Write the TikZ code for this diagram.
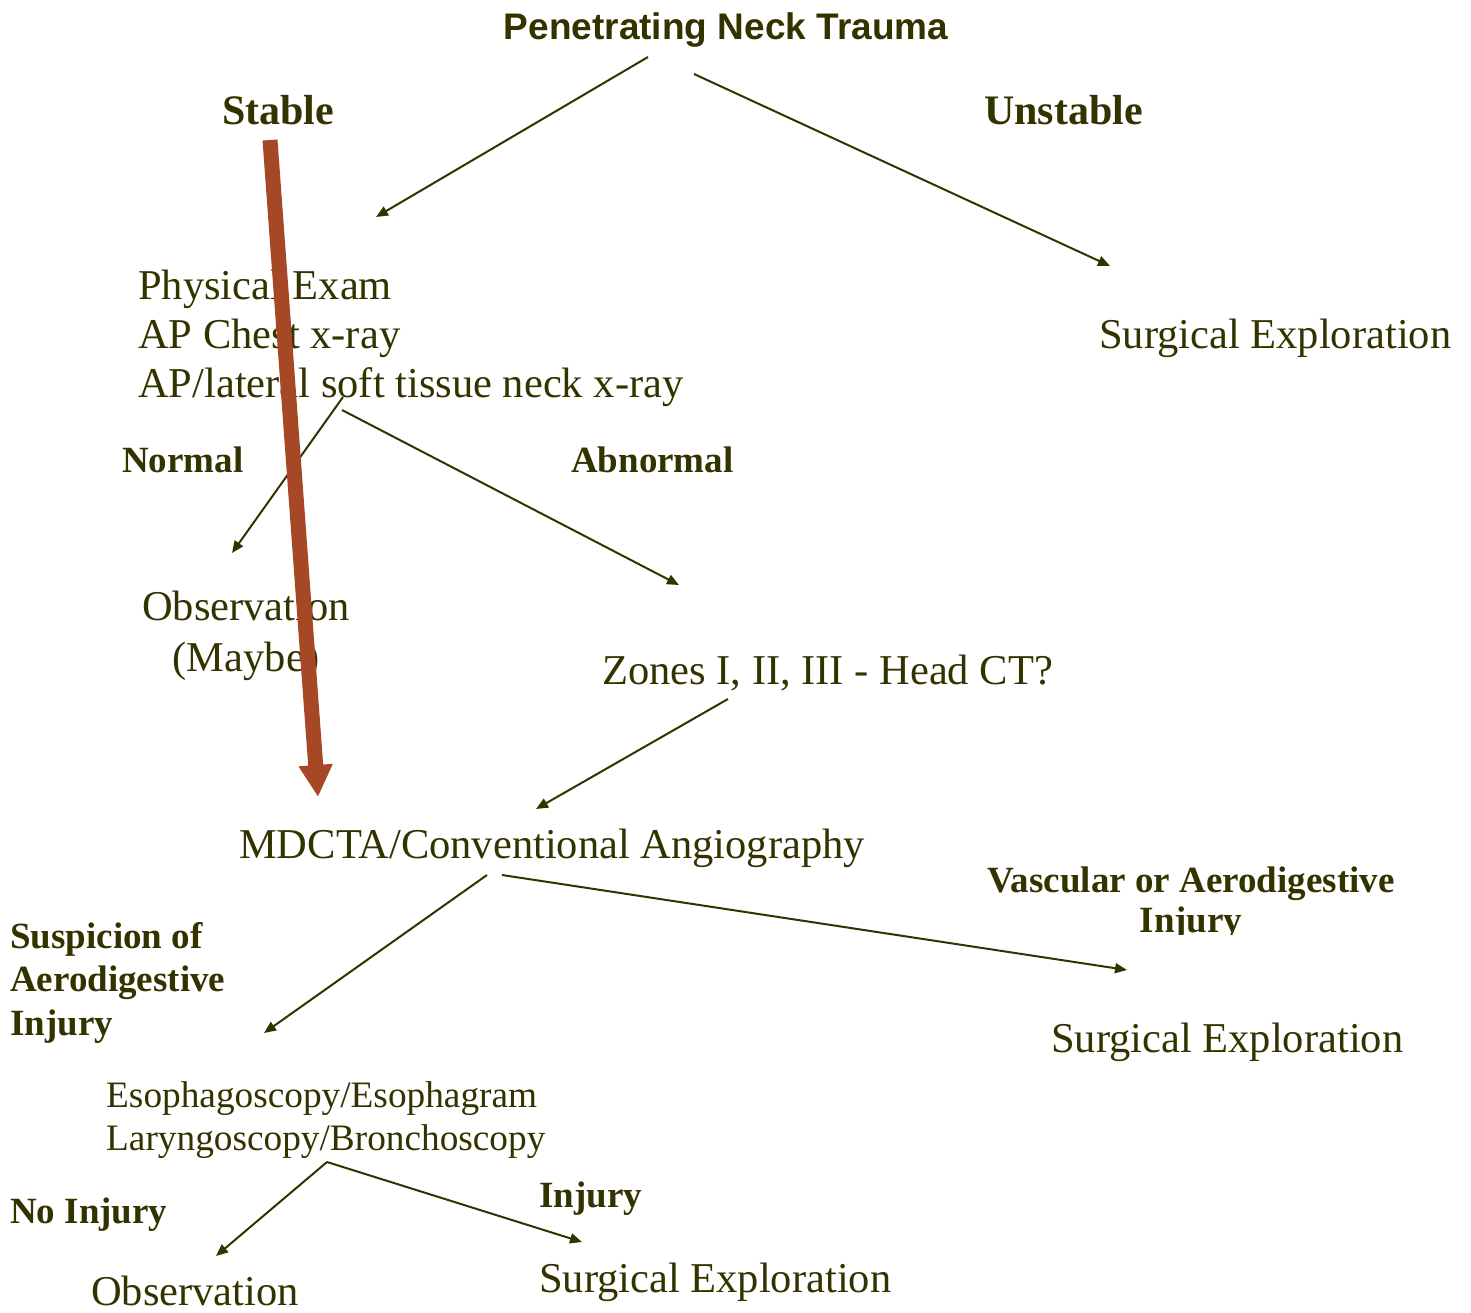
\documentclass[tikz,border=0pt]{standalone}
\usepackage{fontspec}
\setmainfont{Liberation Serif}
\newfontfamily\titlefont{Liberation Sans}
\usetikzlibrary{arrows.meta}
\definecolor{olive}{RGB}{51,51,0}
\definecolor{rust}{RGB}{166,72,38}
\tikzset{
  txt/.style={inner sep=0pt, text=olive, anchor=base west, font=\fontsize{42.5}{49}\selectfont},
  lbl/.style={inner sep=0pt, text=olive, anchor=base west, font=\bfseries\fontsize{37}{43.5}\selectfont},
  small/.style={inner sep=0pt, text=olive, anchor=base west, font=\fontsize{37.3}{43}\selectfont},
  conn/.style={draw=olive, line width=2pt, -{Triangle[length=12pt,width=10pt]}},
  bigarrow/.style={draw=rust, line width=15pt, -{Triangle[length=32pt,width=32pt]}}
}
\begin{document}
\begin{tikzpicture}[x=1pt,y=-1pt]
\useasboundingbox (0,0) rectangle (1471,1313);
% texts (multi-line nodes are placed by the baseline of their last line)
\node[inner sep=0pt, text=olive, anchor=base, font=\titlefont\bfseries\fontsize{37}{44}\selectfont] (title) at (726,40) {Penetrating Neck Trauma};
\node[lbl, font=\bfseries\fontsize{42}{48}\selectfont] (stable) at (222,125) {Stable};
\node[lbl, font=\bfseries\fontsize{42}{48}\selectfont] (unstable) at (984,125) {Unstable};
\node[txt, align=left] (pe) at (138,397) {Physical Exam\\AP Chest x-ray\\AP/lateral soft tissue neck x-ray};
\node[txt] (se1) at (1099,348) {Surgical Exploration};
\node[lbl] (normal) at (122,472) {Normal};
\node[lbl] (abnormal) at (571,472) {Abnormal};
\node[txt, anchor=base, align=center, font=\fontsize{42.5}{51}\selectfont] (obs1) at (246,671) {Observation\\(Maybe)};
\node[txt] (zones) at (602,684) {Zones I, II, III - Head CT?};
\node[txt] (mdcta) at (239,858) {MDCTA/Conventional Angiography};
\begin{scope}
\clip (900,840) rectangle (1471,934);
\node[lbl, anchor=base, align=center, font=\bfseries\fontsize{37}{40}\selectfont] (vasc) at (1191,932) {Vascular or Aerodigestive\\Injury};
\end{scope}
\node[txt] (se2) at (1051,1052) {Surgical Exploration};
\node[lbl, align=left] (susp) at (10,1035) {Suspicion of\\Aerodigestive\\Injury};
\node[small, align=left] (eso) at (106,1150) {Esophagoscopy/Esophagram\\Laryngoscopy/Bronchoscopy};
\node[lbl] (noinj) at (10,1223) {No Injury};
\node[lbl] (inj) at (539,1207) {Injury};
\node[txt] (obs2) at (91,1305) {Observation};
\node[txt] (se3) at (539,1292) {Surgical Exploration};
% connector end points
\coordinate (t1) at (648,57);
\coordinate (t2) at (694,74);
\coordinate (peIn) at (376,217);
\coordinate (se1In) at (1110,266);
\coordinate (peOut1) at (343,397);
\coordinate (peOut2) at (342,410);
\coordinate (obs1In) at (232,553);
\coordinate (zonesIn) at (679,585);
\coordinate (zonesOut) at (728,699);
\coordinate (mdctaIn) at (536,809);
\coordinate (mdctaOut1) at (487,875);
\coordinate (mdctaOut2) at (502,875);
\coordinate (esoIn) at (264,1033);
\coordinate (se2In) at (1127,970);
\coordinate (esoOut) at (327,1162);
\coordinate (obs2In) at (216,1256);
\coordinate (se3In) at (582,1242);
\coordinate (redTop) at (270,140);
\coordinate (redTip) at (318,797);
% connectors
\draw[conn] (t1) -- (peIn);
\draw[conn] (t2) -- (se1In);
\draw[conn] (peOut1) -- (obs1In);
\draw[conn] (peOut2) -- (zonesIn);
\draw[conn] (zonesOut) -- (mdctaIn);
\draw[conn] (mdctaOut1) -- (esoIn);
\draw[conn] (mdctaOut2) -- (se2In);
\draw[conn] (esoOut) -- (obs2In);
\draw[conn] (esoOut) -- (se3In);
\draw[bigarrow] (redTop) -- (redTip);
\end{tikzpicture}
\end{document}
